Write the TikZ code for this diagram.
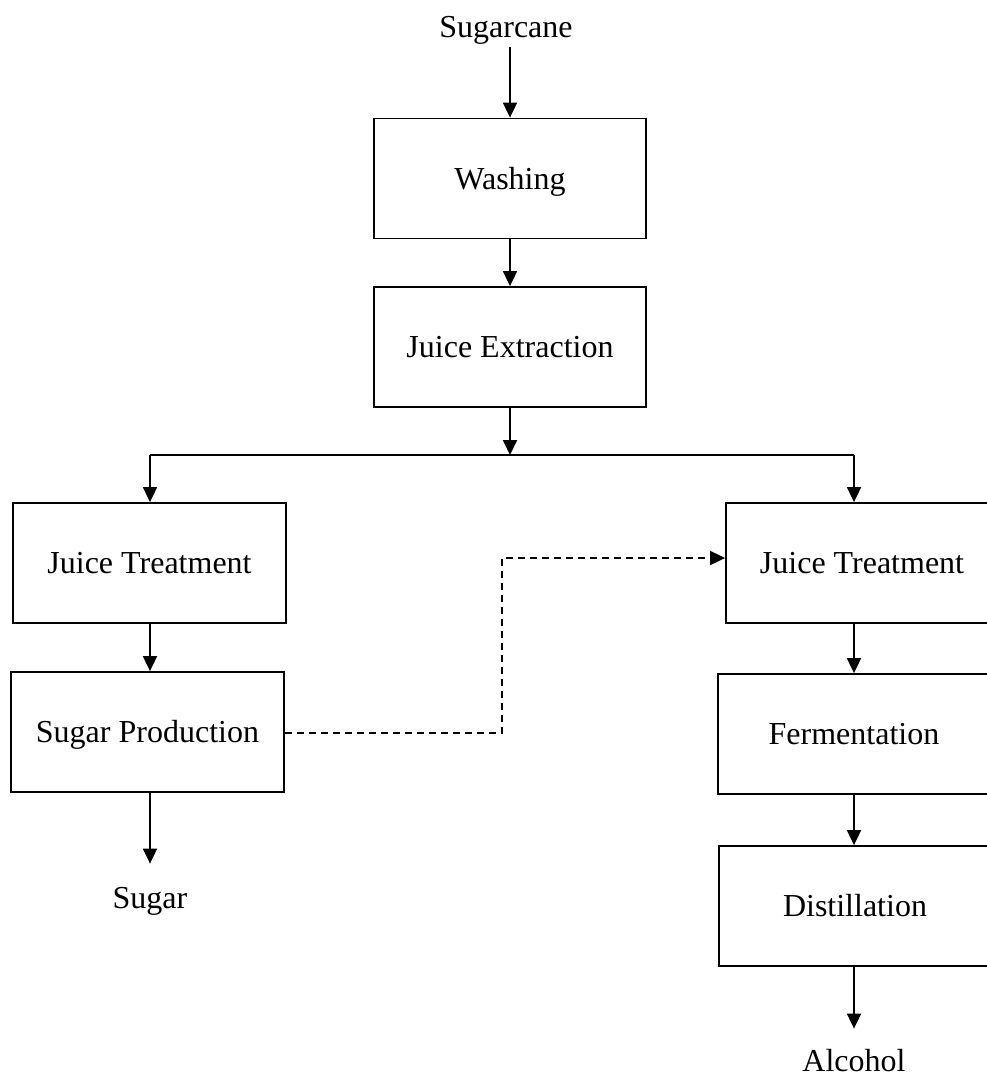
\documentclass[tikz,border=0pt]{standalone}
\usepackage{fontspec}
\setmainfont{Liberation Serif}
\usetikzlibrary{arrows.meta}
\begin{document}
\begin{tikzpicture}[x=1pt,y=-1pt,
  every node/.style={font=\fontsize{32}{38}\selectfont},
  stepbox/.style={draw, line width=1.8pt, minimum width=272pt, minimum height=120pt,
    inner sep=0pt, text height=21pt, text depth=0pt},
  lbl/.style={inner sep=0pt, anchor=base},
  arr/.style={line width=1.8pt, -{Triangle[length=15pt,width=14pt]}},
  plain/.style={line width=1.8pt},
  darr/.style={line width=1.8pt, dash pattern=on 7pt off 5pt, -{Triangle[length=15pt,width=14pt]}}]
\useasboundingbox (0,0) rectangle (987,1077);
\fill[white] (0,0) rectangle (987,1077);

\node[lbl] (cane) at (506,37) {Sugarcane};
\node[stepbox] (wash) at (510,178.5) {Washing};
\node[stepbox] (ext) at (510,347) {Juice Extraction};
\node[stepbox, minimum width=273pt] (ljt) at (149.5,563) {Juice Treatment};
\node[stepbox, minimum width=273pt] (sp) at (147.5,732) {Sugar Production};
\node[lbl] (sugar) at (150,908) {Sugar};
\node[stepbox] (rjt) at (862,563) {Juice Treatment};
\node[stepbox] (ferm) at (854,734) {Fermentation};
\node[stepbox] (dist) at (855,906) {Distillation};
\node[lbl] (alc) at (854,1071) {Alcohol};

\coordinate (hl) at (150,455);
\coordinate (hr) at (854,455);
\coordinate (d1) at (502,733);
\coordinate (d2) at (502,558);

\draw[arr] (cane.south -| wash.north) ++(0,3) -- (wash.north);
\draw[arr] (wash.south) -- (ext.north);
\draw[arr] (ext.south) -- (ext.south |- hl);
\draw[plain] (hl) -- (hr);
\draw[arr] (hl) -- (hl |- ljt.north);
\draw[arr] (hr) -- (hr |- rjt.north);
\draw[arr] (ljt.south -| hl) -- (hl |- sp.north);
\draw[arr] (sp.south -| hl) -- ([yshift=23pt]sugar.north);
\draw[arr] (rjt.south -| hr) -- (hr |- ferm.north);
\draw[arr] (ferm.south -| hr) -- (hr |- dist.north);
\draw[arr] (dist.south -| hr) -- ([yshift=20pt]alc.north);
\draw[darr] (sp.east |- d1) -- (d1) -- (d2) -- (d2 -| rjt.west);
\end{tikzpicture}
\end{document}
